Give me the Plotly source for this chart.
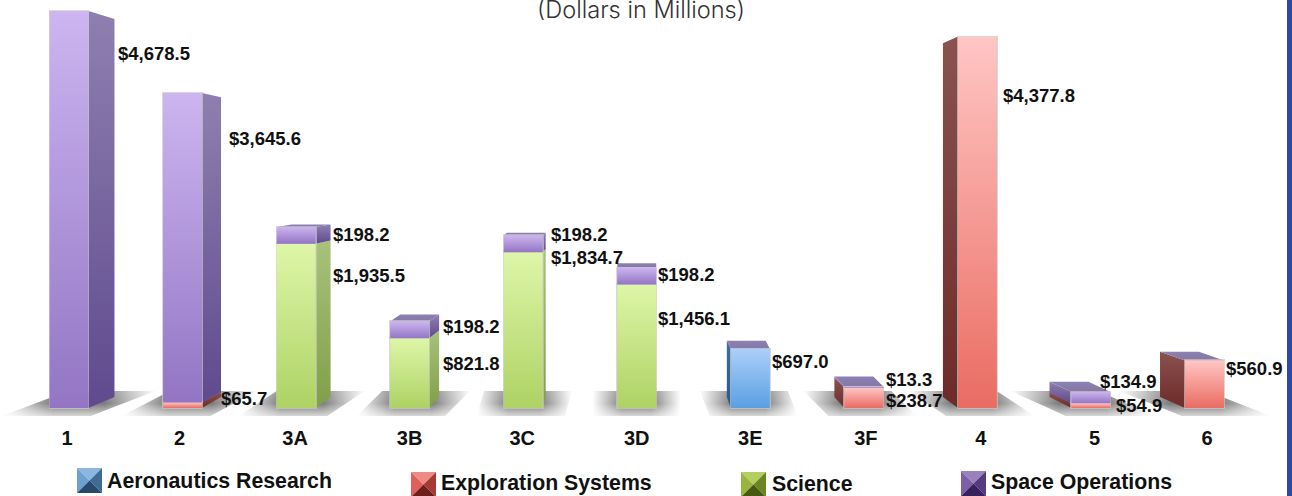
import plotly.graph_objects as go

categories = ["1", "2", "3A", "3B", "3C", "3D", "3E", "3F", "4", "5", "6"]
aeronautics = [0, 0, 0, 0, 0, 0, 697.0, 0, 0, 0, 0]
exploration = [0, 65.7, 0, 0, 0, 0, 0, 238.7, 4377.8, 54.9, 560.9]
science = [0, 0, 1935.5, 821.8, 1834.7, 1456.1, 0, 0, 0, 0, 0]
space_ops = [4678.5, 3645.6, 198.2, 198.2, 198.2, 198.2, 0, 13.3, 0, 134.9, 0]

series_names = ["Aeronautics Research", "Exploration Systems", "Science", "Space Operations"]
series_values = [aeronautics, exploration, science, space_ops]

# front face colours, bottom to top
front_colors = [["#5a9fe2", "#abcff9"], ["#ea6c62", "#ffc6c4"], ["#aed264", "#def6a8"], ["#9375c4", "#ccb5f0"]]
side_colors = [["#235a8a", "#3d6fa0"], ["#6d2a28", "#8a5250"], ["#7f9f48", "#a8c27a"], ["#5f4a8e", "#8f7fb0"]]
flat_colors = ["#82b7ee", "#f59a93", "#c6e486", "#b095da"]
swatch_colors = [["#8ab6e0", "#6c9fd2", "#3f6b94", "#27496c"], ["#f08a86", "#e05f5a", "#a83a36", "#6e1f1c"],
                 ["#b5cf5e", "#9ab440", "#6c8424", "#46590f"], ["#9a80bd", "#7d5fa6", "#553a80", "#38215c"]]

# layout in pixels of the 1292x496 page
WIDTH, HEIGHT, BOTTOM = 1292, 496, 76
X0_PX, STEP_PX, BASE_PX = 69, 113.55, 408
PX_PER_UNIT = 0.08486
BAR_W = 0.343
VANISH_Y = 2710
DEPTH = 0.048
side_dx = [26, 19, 15, 10, 3, 0, -4, -10, -15, -22, -25]
tick_nudge = [-2, -3, -1, 0, -1, 0, 0, 2, 3.5, 3.5, 2.5]

# (series, category, left px, centre px) for the value labels
label_spots = [(3, 0, 117, 54), (3, 1, 228, 139), (1, 1, 220, 398), (3, 2, 332, 234), (2, 2, 332, 275),
               (3, 3, 442, 326), (2, 3, 442, 363), (3, 4, 550, 234), (2, 4, 550, 257), (3, 5, 657, 274),
               (2, 5, 657, 318), (0, 6, 771, 361), (3, 7, 885, 379), (1, 7, 885, 400), (1, 8, 1002, 96),
               (3, 9, 1099, 381), (1, 9, 1115, 405), (1, 10, 1225, 368)]
legend_spots = [(77, 468, 106, 481), (411, 472, 440, 483), (741, 472, 771, 484), (961, 471, 990, 482)]


def px(val):
    return val / STEP_PX


def back_y(v):
    return v + (VANISH_Y - v) * DEPTH


def face(xs, ys, colors, zorder, kind="vertical"):
    scale = [[i / (len(colors) - 1), c] for i, c in enumerate(colors)]
    return go.Scatter(x=xs + xs[:1], y=ys + ys[:1], mode="lines", line_width=0, fill="toself",
                      fillgradient=dict(type=kind, colorscale=scale), hoverinfo="skip",
                      showlegend=False, zorder=zorder)


fig = go.Figure()

# floor shadows
for i in range(len(categories)):
    s = side_dx[i] * 2.2
    top_y, low_y = 17 / PX_PER_UNIT, -8 / PX_PER_UNIT
    xs = [i + px(-44 - s * 0.4), i + px(44 - s * 0.4), i + px(44 + s * 0.75), i + px(-44 + s * 0.75)]
    ys = [low_y, low_y, top_y, top_y]
    fig.add_trace(face(xs, ys, ["rgba(125,125,125,0)", "rgba(125,125,125,1)", "rgba(125,125,125,1)",
                                "rgba(125,125,125,0)"], -3, "horizontal"))
    fig.add_trace(face(xs, ys, ["rgba(255,255,255,0.7)", "rgba(255,255,255,0)", "rgba(255,255,255,0.15)"], -3))

# side and top faces plus front shading, stacked the same way as the bars
for i in range(len(categories)):
    dx = px(side_dx[i])
    left, right = i - BAR_W / 2, i + BAR_W / 2
    edge = right if side_dx[i] > 0 else left
    low = 0
    for k, vals in enumerate(series_values):
        v = vals[i]
        if not v:
            continue
        high = low + v
        if dx:
            fig.add_trace(face([edge, edge + dx, edge + dx, edge],
                               [low, back_y(low), back_y(high), high], side_colors[k], -1))
        fig.add_trace(face([left, right, right, left], [low, low, high, high], front_colors[k], 1))
        low = high
    if back_y(low) > low:
        fig.add_trace(face([left, right, right + dx, left + dx], [low, low, back_y(low), back_y(low)],
                           ["#85789f", "#8c80b8"], -1))

for k, vals in enumerate(series_values):
    fig.add_trace(go.Bar(x=list(range(len(categories))), y=[v or None for v in vals], name=series_names[k],
                         width=BAR_W, marker=dict(color=flat_colors[k], line=dict(color="rgba(200,200,200,0.7)", width=2)),
                         showlegend=False, zorder=0))

annotations = [dict(text="(Dollars in Millions)", x=641 / WIDTH, y=1 - 9 / (HEIGHT - BOTTOM), xref="paper", yref="paper",
                    yanchor="middle", showarrow=False, font=dict(family="Inter", size=23.6, color="#333333", weight=300))]
for k, i, lx, ly in label_spots:
    annotations.append(dict(text=f"${series_values[k][i]:,.1f}", x=lx / WIDTH, y=1 - ly / (HEIGHT - BOTTOM),
                            xref="paper", yref="paper", xanchor="left", yanchor="middle", showarrow=False, borderpad=0,
                            font=dict(family="Liberation Sans", size=18.5, color="#111111", weight=700)))

shapes = [dict(type="rect", xref="paper", yref="paper", x0=1287 / WIDTH, x1=1, y0=1 - HEIGHT / (HEIGHT - BOTTOM), y1=1,
               fillcolor="#2b49a6", line_width=0)]
for k, (sx, sy, tx, ty) in enumerate(legend_spots):
    annotations.append(dict(text=series_names[k], x=tx / WIDTH, y=1 - ty / (HEIGHT - BOTTOM), xref="paper", yref="paper",
                            xanchor="left", yanchor="middle", showarrow=False, borderpad=0,
                            font=dict(family="Liberation Sans", size=21.3, color="#111111", weight=700)))
    size = 25
    cx, cy = (sx + size / 2) / WIDTH, 1 - (sy + size / 2) / (HEIGHT - BOTTOM)
    corners = [(sx, sy), (sx + size, sy), (sx + size, sy + size), (sx, sy + size)]
    corners = [(a / WIDTH, 1 - b / (HEIGHT - BOTTOM)) for a, b in corners]
    # bevelled swatch: top, left, right, bottom triangles
    for (a, b), col in zip([(0, 1), (3, 0), (1, 2), (2, 3)], swatch_colors[k]):
        path = f"M{corners[a][0]},{corners[a][1]} L{corners[b][0]},{corners[b][1]} L{cx},{cy} Z"
        shapes.append(dict(type="path", xref="paper", yref="paper", path=path, fillcolor=col, line_width=0))

fig.update_layout(
    width=WIDTH, height=HEIGHT,
    margin=dict(l=0, r=0, t=0, b=BOTTOM),
    barmode="stack", bargap=0,
    plot_bgcolor="white", paper_bgcolor="white",
    showlegend=False,
    annotations=annotations, shapes=shapes,
    xaxis=dict(range=[-X0_PX / STEP_PX, (WIDTH - X0_PX) / STEP_PX],
               tickmode="array", tickvals=[i + px(n) for i, n in enumerate(tick_nudge)], ticktext=categories,
               tickfont=dict(family="Liberation Sans", size=20, color="#111111", weight=700),
               showgrid=False, zeroline=False, showline=False, ticks="", ticklabelstandoff=4),
    yaxis=dict(range=[-(HEIGHT - BOTTOM - BASE_PX) / PX_PER_UNIT, BASE_PX / PX_PER_UNIT],
               showgrid=False, zeroline=False, showline=False, showticklabels=False, ticks=""),
)

# the page body has a default 8px margin, drop it so the figure fills the window
fig.write_html("out.html", config={"displayModeBar": False}, post_script="document.body.style.margin='0';")
